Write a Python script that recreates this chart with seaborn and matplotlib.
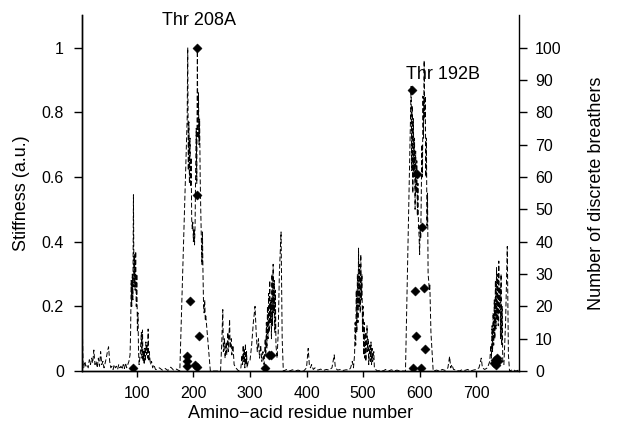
import numpy as np
import pandas as pd
import matplotlib
matplotlib.use('Agg')
import matplotlib.pyplot as plt
import seaborn as sns

# ---------------------------------------------------------------
# Stiffness profile, region by region
# ---------------------------------------------------------------
res_nterm = [4, 5, 6, 8, 10, 12, 14, 16, 18, 20, 22, 24, 26, 28, 30, 32, 34, 36, 38, 40,
             42, 44, 46, 48, 50, 52, 54, 56, 58, 60, 62, 64, 66, 68, 70, 72, 74, 76, 78, 80,
             82, 84, 86, 88]
stf_nterm = [0.10, 0.02, 0.01, 0.03, 0.015, 0.02, 0.01, 0.035, 0.02, 0.04, 0.025, 0.065, 0.02, 0.03, 0.01, 0.04, 0.015, 0.06, 0.02, 0.03,
             0.01, 0.025, 0.04, 0.06, 0.075, 0.03, 0.01, 0.015, 0.005, 0.02, 0.01, 0.015, 0.005, 0.02, 0.01, 0.015, 0.005, 0.02, 0.008, 0.025,
             0.01, 0.02, 0.03, 0.05]

res_p94 = [89, 90, 91, 92, 93, 94, 95, 96, 97, 98, 99, 100, 101, 102, 103, 104, 106, 108, 109, 110,
           111, 112, 113, 114, 115, 116, 117, 118, 119, 120, 121, 122, 124, 126, 128, 130, 133]
stf_p94 = [0.12, 0.28, 0.2, 0.3, 0.22, 0.545, 0.26, 0.36, 0.25, 0.37, 0.2, 0.3, 0.12, 0.18, 0.06, 0.02, 0.05, 0.12, 0.04, 0.127,
           0.03, 0.06, 0.02, 0.07, 0.03, 0.09, 0.05, 0.08, 0.04, 0.13, 0.03, 0.06, 0.02, 0.03, 0.01, 0.02, 0.005]

res_gap1 = [135, 140, 145, 150, 155, 160, 165, 170, 176]
stf_gap1 = [0.005, 0.01, 0.003, 0.008, 0.002, 0.012, 0.003, 0.006, 0.0]

res_p208 = [189, 190, 191, 192, 193, 194, 195, 196, 197, 198, 199, 200, 201, 202, 203, 204, 205, 206, 207, 208,
            209, 210, 211, 212, 213, 214, 215, 216, 217, 218, 219, 220, 221, 222, 230]
stf_p208 = [0.78, 1.0, 0.62, 0.77, 0.58, 0.72, 0.57, 0.66, 0.47, 0.44, 0.46, 0.40, 0.44, 0.39, 0.45, 0.62, 0.75, 0.58, 0.99, 0.72,
            0.86, 0.70, 0.78, 0.60, 0.50, 0.42, 0.33, 0.43, 0.30, 0.20, 0.18, 0.22, 0.16, 0.17, 0.0]

res_mid = [240, 248, 250, 252, 253, 255, 256, 258, 259, 261, 262, 264, 265, 267, 268, 270, 272, 275, 280, 284,
           286, 287, 288, 289, 290, 291, 292, 293, 294, 295, 297, 300, 303, 306, 309, 311, 313, 315, 317, 319,
           321, 323, 325, 327, 328, 329, 330, 331, 332, 333, 334, 335, 336, 337, 338, 339, 340, 341, 342, 343,
           344, 345, 346, 348, 350, 352, 355, 357, 359]
stf_mid = [0.0, 0.0, 0.08, 0.19, 0.06, 0.1, 0.04, 0.09, 0.05, 0.12, 0.06, 0.16, 0.07, 0.1, 0.05, 0.08, 0.02, 0.01, 0.0, 0.01,
           0.05, 0.02, 0.08, 0.03, 0.07, 0.01, 0.085, 0.02, 0.06, 0.01, 0.03, 0.03, 0.08, 0.15, 0.2, 0.12, 0.06, 0.1, 0.04, 0.08,
           0.03, 0.06, 0.02, 0.1, 0.05, 0.15, 0.07, 0.2, 0.1, 0.24, 0.12, 0.28, 0.15, 0.22, 0.1, 0.3, 0.14, 0.33, 0.18, 0.28,
           0.12, 0.25, 0.08, 0.04, 0.12, 0.3, 0.43, 0.1, 0.0]

res_gap2 = [365, 370, 375, 380, 385, 390, 395, 400, 403, 405, 407, 409, 412, 415, 420, 425, 430, 435, 440, 445,
            449, 451, 455, 460, 465, 470, 475, 478, 481]
stf_gap2 = [0.005, 0.0, 0.004, 0.0, 0.003, 0.0, 0.0, 0.01, 0.07, 0.02, 0.01, 0.02, 0.005, 0.01, 0.003, 0.006, 0.002, 0.005, 0.003, 0.01,
            0.05, 0.01, 0.003, 0.005, 0.002, 0.004, 0.003, 0.01, 0.03]

res_p495 = [483, 485, 486, 487, 488, 489, 490, 491, 492, 493, 494, 495, 496, 497, 498, 499, 500, 501, 502, 503,
            504, 505, 507, 508, 509, 510, 512, 513, 514, 515, 516, 517, 519, 520, 522, 526]
stf_p495 = [0.01, 0.05, 0.15, 0.08, 0.25, 0.12, 0.3, 0.15, 0.38, 0.2, 0.33, 0.18, 0.36, 0.22, 0.3, 0.12, 0.2, 0.05, 0.15, 0.04,
            0.12, 0.03, 0.14, 0.06, 0.1, 0.02, 0.08, 0.03, 0.09, 0.02, 0.07, 0.03, 0.06, 0.01, 0.005, 0.0]

res_gap3 = [530, 535, 540, 545, 550, 555, 560, 565, 570, 575]
stf_gap3 = [0.003, 0.0, 0.005, 0.0, 0.004, 0.0, 0.003, 0.0, 0.0, 0.0]

res_p192 = [585, 586, 587, 588, 589, 590, 591, 592, 593, 594, 595, 596, 597, 598, 599, 600, 601, 602, 603, 604,
            605, 606, 607, 608, 609, 610, 611, 612, 613, 614, 615, 616, 617, 618, 620, 624]
stf_p192 = [0.88, 0.62, 0.82, 0.55, 0.78, 0.6, 0.72, 0.5, 0.68, 0.55, 0.65, 0.48, 0.58, 0.45, 0.42, 0.36, 0.45, 0.41, 0.55, 0.7,
            0.6, 0.85, 0.72, 0.96, 0.78, 0.85, 0.6, 0.72, 0.45, 0.55, 0.3, 0.28, 0.25, 0.27, 0.12, 0.0]

res_cterm = [630, 635, 640, 645, 650, 653, 655, 657, 660, 665, 670, 675, 680, 685, 690, 695, 700, 705, 709, 711,
             715, 720, 724, 726, 727, 728, 729, 730, 731, 732, 733, 734, 735, 736, 737, 738, 739, 740, 741, 742,
             743, 744, 745, 746, 747, 749, 752, 755, 757, 759, 765, 770, 775]
stf_cterm = [0.003, 0.0, 0.005, 0.002, 0.01, 0.045, 0.01, 0.02, 0.005, 0.003, 0.0, 0.004, 0.002, 0.005, 0.0, 0.003, 0.005, 0.01, 0.04, 0.01,
             0.005, 0.01, 0.03, 0.08, 0.04, 0.14, 0.06, 0.18, 0.08, 0.22, 0.1, 0.28, 0.13, 0.32, 0.16, 0.3, 0.14, 0.34, 0.18, 0.26,
             0.1, 0.3, 0.08, 0.2, 0.03, 0.02, 0.15, 0.385, 0.05, 0.0, 0.005, 0.0, 0.003]

# Discrete breathers: residue and count
db_residue = [94, 188, 188, 189, 194, 203, 207, 207, 207, 210,
              327, 333, 337,
              586, 588, 591, 593, 595, 602, 604, 608, 609,
              732, 734, 735, 736, 738]
db_count = [1, 4.7, 3, 1.5, 21.7, 1.8, 1.3, 54.4, 100, 10.9,
            1, 5, 5,
            87, 1, 24.7, 10.8, 61, 1, 44.5, 25.7, 6.8,
            2.5, 3.5, 2, 4, 3]

# ---------------------------------------------------------------
residue = (res_nterm + res_p94 + res_gap1 + res_p208 + res_mid + res_gap2
           + res_p495 + res_gap3 + res_p192 + res_cterm)
stiffness = (stf_nterm + stf_p94 + stf_gap1 + stf_p208 + stf_mid + stf_gap2
             + stf_p495 + stf_gap3 + stf_p192 + stf_cterm)
df_stiff = pd.DataFrame({'residue': residue, 'stiffness': stiffness})
df_db = pd.DataFrame({'residue': db_residue, 'breathers': db_count})

sns.set_style('ticks')
plt.rcParams['font.family'] = ['Liberation Sans', 'DejaVu Sans']
plt.rcParams.update({'text.color': 'black', 'axes.labelcolor': 'black',
                     'xtick.color': 'black', 'ytick.color': 'black',
                     'axes.edgecolor': 'black'})

fig = plt.figure(figsize=(6.21, 4.34), dpi=100)
ax = fig.add_axes([0.132, 0.145, 0.704, 0.82])

sns.lineplot(data=df_stiff, x='residue', y='stiffness', ax=ax, sort=False,
             color='black', linewidth=0.7, linestyle=(0, (5, 2.5)))
ax.set_xlim(3, 776)
ax.set_ylim(0, 1.1)
ax.set_xticks([100, 200, 300, 400, 500, 600, 700])
ax.set_yticks([0, 0.2, 0.4, 0.6, 0.8, 1])
ax.set_yticklabels(['0', '0.2', '0.4', '0.6', '0.8', '1'])
ax.set_xlabel('Amino\u2212acid residue number', fontsize=13, labelpad=3)
ax.set_ylabel('Stiffness (a.u.)', fontsize=13, labelpad=8)
ax.tick_params(axis='y', length=6, width=1, labelsize=11.5, pad=7)
ax.tick_params(axis='x', length=4, width=1, labelsize=11.5, pad=6.5)
ax.spines['top'].set_visible(False)
ax.spines['right'].set_visible(False)

ax2 = ax.twinx()
sns.scatterplot(data=df_db, x='residue', y='breathers', ax=ax2, marker='D',
                color='black', s=22, edgecolor='black', linewidth=0.3, legend=False)
ax2.set_ylim(0, 110)
ax2.set_yticks(np.arange(0, 101, 10))
ax2.set_ylabel('Number of discrete breathers', fontsize=13, labelpad=19)
ax2.tick_params(axis='y', length=6, width=1, labelsize=11.5, pad=5.5)
ax2.spines['top'].set_visible(False)

for sp in ['left', 'bottom', 'right']:
    ax2.spines[sp].set_linewidth(1)
    ax.spines[sp].set_linewidth(1)

ax.text(210, 1.085, 'Thr 208A', fontsize=13, ha='center', va='center')
ax.text(641, 0.918, 'Thr 192B', fontsize=13, ha='center', va='center')

fig.savefig('out.png', dpi=100)
